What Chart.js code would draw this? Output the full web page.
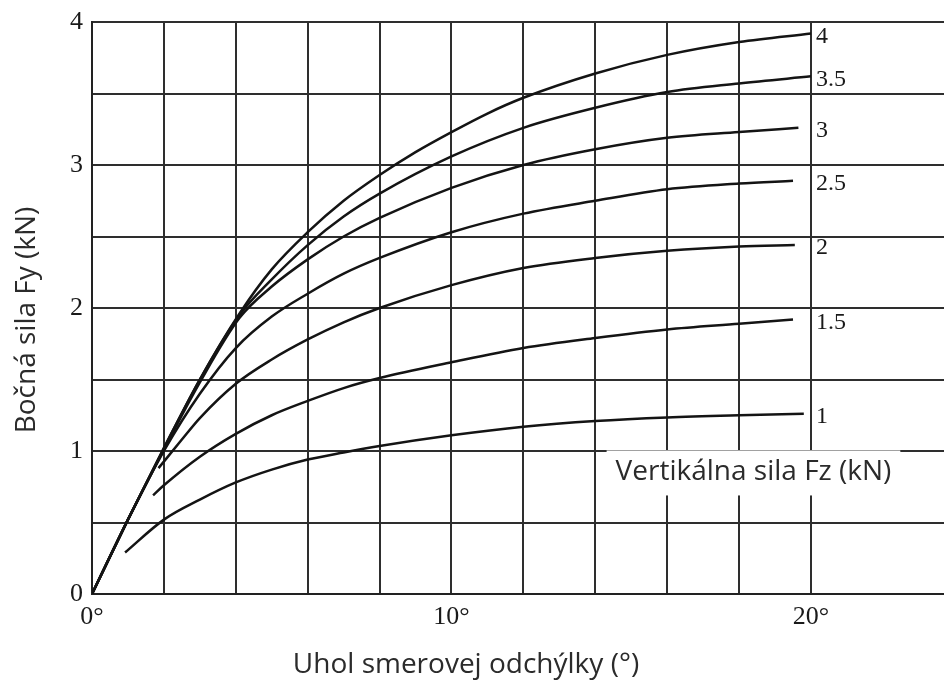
<!DOCTYPE html>
<html>
<head>
<meta charset="utf-8">
<script src="https://cdn.jsdelivr.net/npm/chart.js@4.4.1/dist/chart.umd.min.js"></script>
<style>
  html, body { margin: 0; padding: 0; background: #fff; }
  canvas { display: block; }
</style>
</head>
<body>
<canvas id="chart" width="944" height="683"></canvas>
<script>
// Bočná sila Fy v závislosti od uhla smerovej odchýlky pre rôzne Fz

const fzLabels = ['4', '3.5', '3', '2.5', '2', '1.5', '1'];

// [uhol (°), Fy (kN)] odčítané z grafu
const curve4 = [[0, 0], [1, 0.52], [2, 1.02], [3, 1.5], [4.1, 1.96], [5, 2.27], [6, 2.53], [7, 2.75], [8, 2.93], [9, 3.09], [10, 3.23], [11, 3.36], [12, 3.47], [14, 3.64], [16, 3.77], [18, 3.86], [20, 3.92]];
const curve35 = [[0, 0], [1, 0.52], [2, 1.02], [3, 1.5], [4.1, 1.95], [5, 2.2], [6, 2.44], [7, 2.64], [8, 2.8], [10, 3.06], [12, 3.26], [14, 3.4], [16, 3.51], [18, 3.57], [20, 3.62]];
const curve3 = [[0, 0], [1, 0.52], [2, 1.01], [3, 1.48], [4.1, 1.93], [5, 2.15], [6, 2.34], [7, 2.5], [8, 2.63], [10, 2.84], [12, 3.0], [14, 3.11], [16, 3.19], [18, 3.23], [19.65, 3.26]];
const curve25 = [[0, 0], [1, 0.52], [2, 1.0], [3, 1.4], [4, 1.72], [5, 1.94], [6, 2.1], [7, 2.24], [8, 2.35], [10, 2.53], [12, 2.66], [14, 2.75], [16, 2.83], [18, 2.87], [19.5, 2.89]];
const curve2 = [[1.85, 0.88], [2.5, 1.08], [3, 1.23], [4, 1.47], [5, 1.64], [6, 1.78], [7, 1.9], [8, 2.0], [10, 2.16], [12, 2.28], [14, 2.35], [16, 2.4], [18, 2.43], [19.55, 2.44]];
const curve15 = [[1.7, 0.69], [2, 0.76], [3, 0.96], [4, 1.12], [5, 1.25], [6, 1.35], [7, 1.44], [8, 1.51], [10, 1.62], [12, 1.72], [14, 1.79], [16, 1.85], [18, 1.89], [19.5, 1.92]];
const curve1 = [[0.92, 0.29], [2, 0.52], [3, 0.66], [4, 0.78], [5, 0.87], [6, 0.94], [7, 0.99], [8, 1.035], [10, 1.11], [12, 1.17], [14, 1.21], [16, 1.235], [18, 1.25], [19.8, 1.26]];

const xTicks = [0, 10, 20];   // popisované uhly
const yTicks = [0, 1, 2, 3, 4];

const xTitle = 'Uhol smerovej odchýlky (°)';
const yTitle = 'Bočná sila Fy (kN)';
const noteText = 'Vertikálna sila Fz (kN)';

const curves = [curve4, curve35, curve3, curve25, curve2, curve15, curve1];

const serif = '"Liberation Serif", "DejaVu Serif", serif';
const sans = '"Open Sans", "Noto Sans", sans-serif';

// popisky kriviek, rámik s poznámkou a názvy osí
const overlay = {
    id: 'overlay',
    beforeDatasetsDraw(chart) {
        const { ctx, scales: { x, y } } = chart;
        ctx.save();
        ctx.font = '28px ' + sans;
        const w = ctx.measureText(noteText).width;
        const cx = x.getPixelForValue(18.4);
        const cy = y.getPixelForValue(0.85);
        ctx.fillStyle = '#fff';
        ctx.fillRect(cx - w / 2 - 9, cy - 22, w + 18, 45);
        ctx.fillStyle = '#2b2b2b';
        ctx.textAlign = 'center';
        ctx.textBaseline = 'middle';
        ctx.fillText(noteText, cx, cy);
        ctx.restore();
    },
    afterDatasetsDraw(chart) {
        const { ctx, scales: { x } } = chart;
        ctx.save();
        ctx.font = '24px ' + serif;
        ctx.fillStyle = '#1a1a1a';
        ctx.textAlign = 'left';
        ctx.textBaseline = 'middle';
        const lx = x.getPixelForValue(20) + 5;
        chart.data.datasets.forEach((ds, i) => {
            const pts = chart.getDatasetMeta(i).data;
            const last = pts[pts.length - 1];
            ctx.fillText(ds.label, lx, last.y + 3);
        });
        ctx.restore();
    },
    afterDraw(chart) {
        const { ctx } = chart;
        ctx.save();
        ctx.font = '28px ' + sans;
        ctx.fillStyle = '#2b2b2b';
        ctx.textAlign = 'center';
        ctx.textBaseline = 'middle';
        ctx.fillText(xTitle, 466, 665);
        ctx.translate(27, 320);
        ctx.rotate(-Math.PI / 2);
        ctx.fillText(yTitle, 0, 0);
        ctx.restore();
    }
};

new Chart(document.getElementById('chart'), {
    type: 'line',
    data: {
        datasets: curves.map((c, i) => ({
            label: fzLabels[i],
            data: c.map(p => ({ x: p[0], y: p[1] })),
            borderColor: '#141414',
            borderWidth: 2.5,
            pointRadius: 0,
            fill: false,
            cubicInterpolationMode: 'monotone'
        }))
    },
    options: {
        responsive: false,
        animation: false,
        layout: { padding: { top: 22, right: 0, left: 0, bottom: 0 } },
        plugins: {
            legend: { display: false },
            tooltip: { enabled: false }
        },
        scales: {
            x: {
                type: 'linear',
                min: 0,
                max: 23.7,
                afterFit: s => { s.height = 89; s.paddingLeft = 0; s.paddingRight = 0; },
                ticks: {
                    stepSize: 2,
                    autoSkip: false,
                    maxRotation: 0,
                    padding: 8,
                    color: '#1a1a1a',
                    font: { family: serif, size: 26 },
                    callback: v => xTicks.includes(v) ? v + '°' : ''
                },
                grid: {
                    drawTicks: false,
                    lineWidth: 2,
                    color: c => c.tick && c.tick.value % 2 === 0 ? '#2e2e2e' : 'rgba(0,0,0,0)'
                },
                border: { color: '#222', width: 2 }
            },
            y: {
                min: 0,
                max: 4,
                afterFit: s => { s.width = 92; s.paddingTop = 0; s.paddingBottom = 0; },
                ticks: {
                    stepSize: 0.5,
                    padding: 9,
                    color: '#1a1a1a',
                    font: { family: serif, size: 26 },
                    callback: v => yTicks.includes(v) ? String(v) : ''
                },
                grid: { drawTicks: false, lineWidth: 2, color: '#2e2e2e' },
                border: { color: '#222', width: 2 }
            }
        }
    },
    plugins: [overlay]
});
</script>
</body>
</html>
